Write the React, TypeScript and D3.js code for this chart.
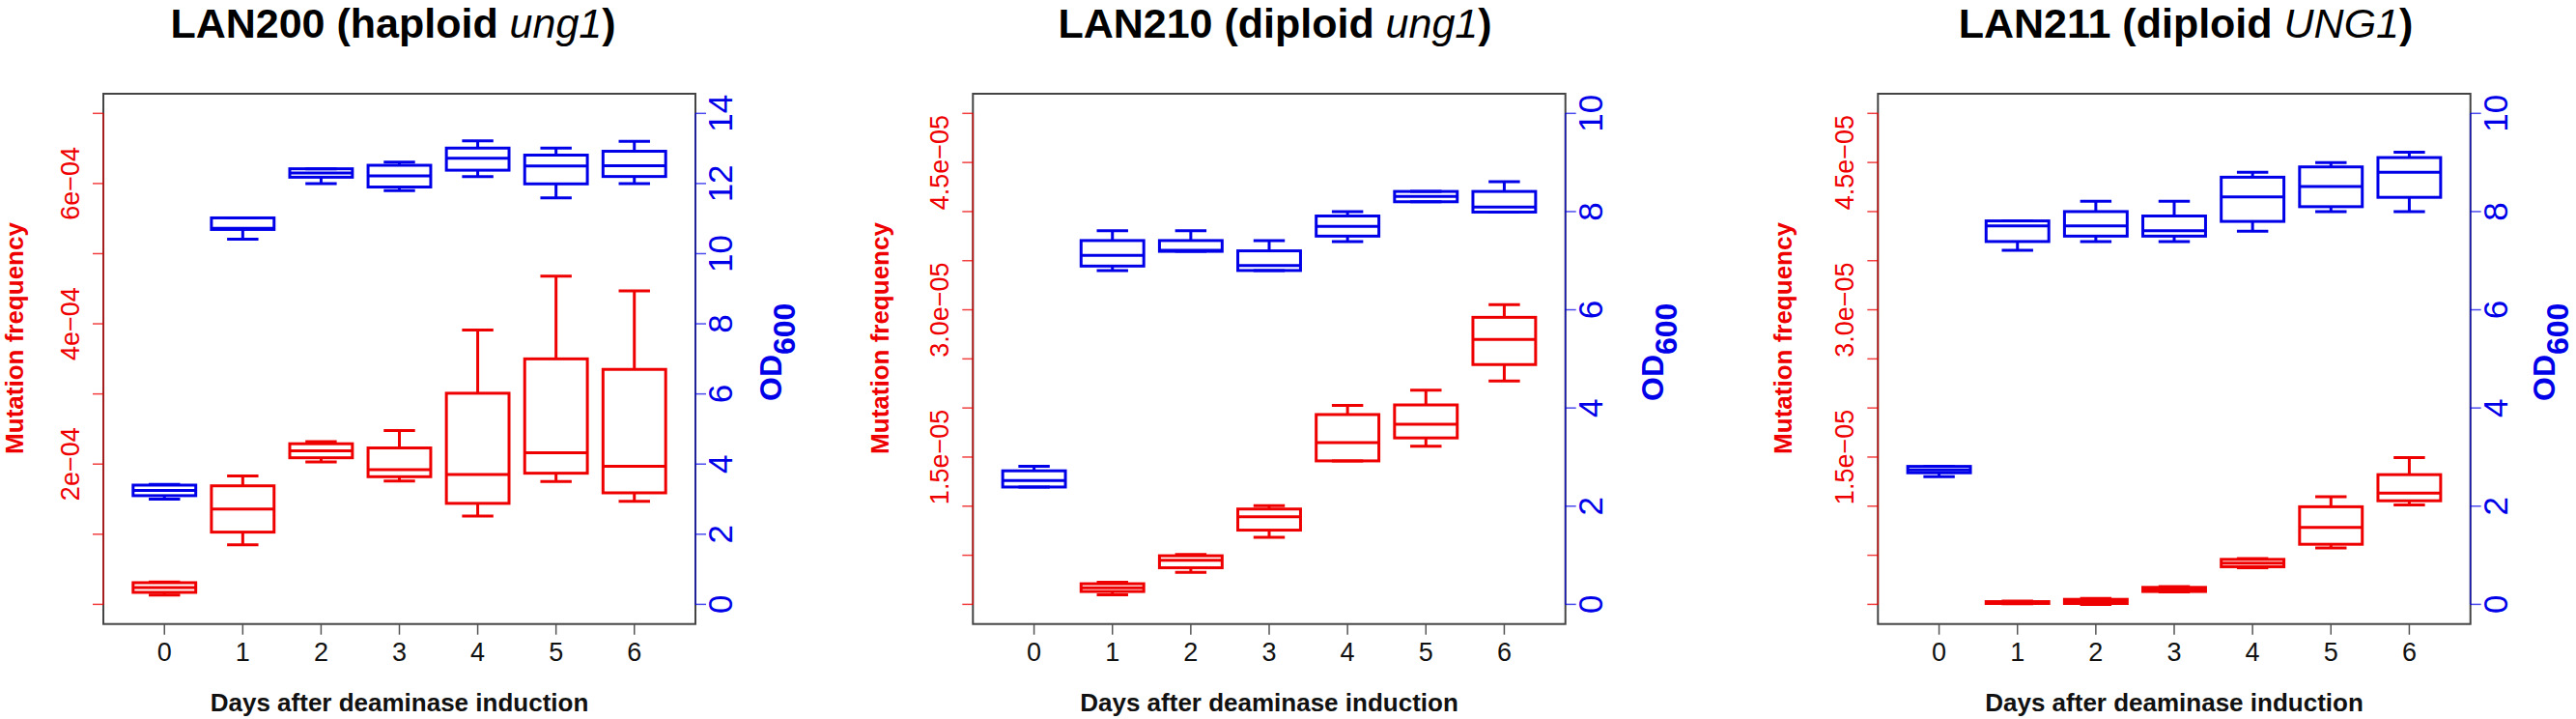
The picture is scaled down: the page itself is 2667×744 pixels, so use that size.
import React from 'react';
import * as d3 from 'd3';

// box stats per day: [lower whisker, Q1, median, Q3, upper whisker]
type Stat = [number, number, number, number, number] | null;

const days = [0, 1, 2, 3, 4, 5, 6];

const lan200Mutation: Stat[] = [
  [1.34e-5, 1.71e-5, 2.4e-5, 3.09e-5, 3.2e-5],
  [0.85e-4, 1.03e-4, 1.36e-4, 1.69e-4, 1.83e-4],
  [2.03e-4, 2.09e-4, 2.19e-4, 2.29e-4, 2.32e-4],
  [1.76e-4, 1.82e-4, 1.92e-4, 2.23e-4, 2.48e-4],
  [1.26e-4, 1.44e-4, 1.85e-4, 3.01e-4, 3.91e-4],
  [1.75e-4, 1.87e-4, 2.16e-4, 3.5e-4, 4.68e-4],
  [1.47e-4, 1.59e-4, 1.97e-4, 3.35e-4, 4.47e-4],
];
const lan200OD: Stat[] = [
  [3.0, 3.1, 3.25, 3.4, 3.42],
  [10.41, 10.69, 10.72, 11.02, 11.02],
  [12.0, 12.18, 12.3, 12.42, 12.42],
  [11.8, 11.9, 12.22, 12.52, 12.61],
  [12.2, 12.38, 12.72, 13.01, 13.22],
  [11.59, 11.99, 12.5, 12.81, 13.01],
  [12.0, 12.2, 12.51, 12.92, 13.2],
];

const lan210Mutation: Stat[] = [
  null,
  [0.098e-5, 0.131e-5, 0.168e-5, 0.21e-5, 0.224e-5],
  [0.327e-5, 0.373e-5, 0.448e-5, 0.495e-5, 0.509e-5],
  [0.682e-5, 0.756e-5, 0.892e-5, 0.971e-5, 1.004e-5],
  [1.461e-5, 1.461e-5, 1.648e-5, 1.933e-5, 2.026e-5],
  [1.611e-5, 1.695e-5, 1.835e-5, 2.031e-5, 2.18e-5],
  [2.274e-5, 2.442e-5, 2.698e-5, 2.923e-5, 3.053e-5],
];
const lan210OD: Stat[] = [
  [2.39, 2.39, 2.52, 2.72, 2.81],
  [6.8, 6.89, 7.11, 7.41, 7.61],
  [7.19, 7.19, 7.21, 7.41, 7.61],
  [6.8, 6.8, 6.9, 7.2, 7.41],
  [7.39, 7.5, 7.7, 7.91, 8.0],
  [8.2, 8.2, 8.31, 8.41, 8.41],
  [7.99, 7.99, 8.09, 8.41, 8.61],
];

const lan211Mutation: Stat[] = [
  null,
  [0.005e-5, 0.009e-5, 0.019e-5, 0.028e-5, 0.033e-5],
  [0.0, 0.009e-5, 0.028e-5, 0.051e-5, 0.061e-5],
  [0.126e-5, 0.131e-5, 0.154e-5, 0.173e-5, 0.182e-5],
  [0.373e-5, 0.383e-5, 0.42e-5, 0.458e-5, 0.467e-5],
  [0.574e-5, 0.612e-5, 0.784e-5, 0.994e-5, 1.097e-5],
  [1.013e-5, 1.055e-5, 1.134e-5, 1.321e-5, 1.494e-5],
];
const lan211OD: Stat[] = [
  [2.6, 2.68, 2.74, 2.81, 2.81],
  [7.21, 7.39, 7.71, 7.81, 7.81],
  [7.39, 7.5, 7.71, 8.0, 8.21],
  [7.39, 7.5, 7.61, 7.91, 8.21],
  [7.6, 7.8, 8.3, 8.7, 8.8],
  [8.0, 8.1, 8.51, 8.91, 9.0],
  [8.0, 8.29, 8.8, 9.1, 9.21],
];

// axis ticks and labels
const ticks200 = [0, 1e-4, 2e-4, 3e-4, 4e-4, 5e-4, 6e-4, 7e-4];
const labels200 = [{ v: 2e-4, t: '2e\u221204' }, { v: 4e-4, t: '4e\u221204' }, { v: 6e-4, t: '6e\u221204' }];
const ticks21x = [0, 5e-6, 1e-5, 1.5e-5, 2e-5, 2.5e-5, 3e-5, 3.5e-5, 4e-5, 4.5e-5, 5e-5];
const labels21x = [{ v: 1.5e-5, t: '1.5e\u221205' }, { v: 3e-5, t: '3.0e\u221205' }, { v: 4.5e-5, t: '4.5e\u221205' }];
const odTicks200 = [0, 2, 4, 6, 8, 10, 12, 14];
const odTicks21x = [0, 2, 4, 6, 8, 10];

const RED = '#ee0000';
const BLUE = '#0000e8';
const FONT = '"Liberation Sans", Arial, Helvetica, sans-serif';

const TOP = 97;
const BOTTOM = 645.7;

interface PanelDef {
  name: string;
  strain: string;
  gene: string;
  left: number;
  right: number;
  titleX: number;
  ylabX: number;
  odX: number;
  mutMax: number;
  mutTicks: number[];
  mutLabels: { v: number; t: string }[];
  odMax: number;
  odTicks: number[];
  mutation: Stat[];
  od: Stat[];
}

const panels: PanelDef[] = [
  { name: 'LAN200', strain: 'haploid', gene: 'ung1', left: 107, right: 720, titleX: 407, ylabX: 24, odX: 809,
    mutMax: 7e-4, mutTicks: ticks200, mutLabels: labels200, odMax: 14, odTicks: odTicks200,
    mutation: lan200Mutation, od: lan200OD },
  { name: 'LAN210', strain: 'diploid', gene: 'ung1', left: 1007.3, right: 1620.7, titleX: 1320, ylabX: 920, odX: 1722,
    mutMax: 5e-5, mutTicks: ticks21x, mutLabels: labels21x, odMax: 10, odTicks: odTicks21x,
    mutation: lan210Mutation, od: lan210OD },
  { name: 'LAN211', strain: 'diploid', gene: 'UNG1', left: 1944.3, right: 2557.7, titleX: 2263, ylabX: 1855, odX: 2645,
    mutMax: 5e-5, mutTicks: ticks21x, mutLabels: labels21x, odMax: 10, odTicks: odTicks21x,
    mutation: lan211Mutation, od: lan211OD },
];

const Boxes: React.FC<{ stats: Stat[]; x: d3.ScaleLinear<number, number>; y: d3.ScaleLinear<number, number>; color: string }> = ({ stats, x, y, color }) => {
  const half = 0.4;
  const staple = 0.2;
  return (
    <g stroke={color} strokeWidth={3} fill="none">
      {stats.map((s, i) => {
        if (!s) return null;
        const cx = x(i + 1);
        const [lo, q1, med, q3, hi] = s;
        const x0 = x(i + 1 - half);
        const x1 = x(i + 1 + half);
        return (
          <g key={i}>
            <line x1={cx} x2={cx} y1={y(q3)} y2={y(hi)} />
            <line x1={cx} x2={cx} y1={y(q1)} y2={y(lo)} />
            <line x1={x(i + 1 - staple)} x2={x(i + 1 + staple)} y1={y(hi)} y2={y(hi)} />
            <line x1={x(i + 1 - staple)} x2={x(i + 1 + staple)} y1={y(lo)} y2={y(lo)} />
            <rect x={x0} y={y(q3)} width={x1 - x0} height={y(q1) - y(q3)} />
            <line x1={x0} x2={x1} y1={y(med)} y2={y(med)} />
          </g>
        );
      })}
    </g>
  );
};

const Panel: React.FC<{ p: PanelDef }> = ({ p }) => {
  const x = d3.scaleLinear().domain([0.22, 7.78]).range([p.left, p.right]);
  const yMut = d3.scaleLinear().domain([-0.04 * p.mutMax, 1.04 * p.mutMax]).range([BOTTOM, TOP]);
  const yOD = d3.scaleLinear().domain([-0.04 * p.odMax, 1.04 * p.odMax]).range([BOTTOM, TOP]);
  const cx = (p.left + p.right) / 2;
  return (
    <g fontFamily={FONT}>
      <text x={p.titleX} y={39} textAnchor="middle" fontSize={43} fontWeight="bold" fill="#000">
        {`${p.name} (${p.strain} `}
        <tspan fontStyle="italic" fontWeight="normal">{p.gene}</tspan>
        {')'}
      </text>

      <Boxes stats={p.mutation} x={x} y={yMut} color={RED} />
      <Boxes stats={p.od} x={x} y={yOD} color={BLUE} />

      <rect x={p.left} y={TOP} width={p.right - p.left} height={BOTTOM - TOP} fill="none" stroke="#444" strokeWidth={2} />

      {/* left axis */}
      <g stroke={RED} strokeWidth={1.5} strokeOpacity={0.75}>
        <line x1={p.left} x2={p.left} y1={yMut(0)} y2={yMut(p.mutMax)} />
        {p.mutTicks.map(t => (
          <line key={t} x1={p.left - 11} x2={p.left} y1={yMut(t)} y2={yMut(t)} />
        ))}
      </g>
      {p.mutLabels.map(l => (
        <text key={l.t} transform={`translate(${p.left - 25},${yMut(l.v)}) rotate(-90)`} textAnchor="middle"
          fontSize={27} fill={RED}>{l.t}</text>
      ))}
      <text transform={`translate(${p.ylabX},350) rotate(-90)`} textAnchor="middle" fontSize={26} fontWeight="bold" fill={RED}>
        Mutation frequency
      </text>

      {/* right axis */}
      <g stroke={BLUE} strokeWidth={1.5} strokeOpacity={0.7}>
        <line x1={p.right} x2={p.right} y1={yOD(0)} y2={yOD(p.odMax)} />
        {p.odTicks.map(t => (
          <line key={t} x1={p.right} x2={p.right + 11} y1={yOD(t)} y2={yOD(t)} />
        ))}
      </g>
      {p.odTicks.map(t => (
        <text key={t} transform={`translate(${p.right + 38},${yOD(t)}) rotate(-90)`} textAnchor="middle"
          fontSize={35} fill={BLUE}>{t}</text>
      ))}
      <text transform={`translate(${p.odX},415) rotate(-90)`} fontSize={32} fontWeight="bold" fill={BLUE}>
        OD<tspan dy={14}>600</tspan>
      </text>

      {/* bottom axis */}
      <g stroke="#555" strokeWidth={1.5}>
        {days.map((d, i) => (
          <line key={d} x1={x(i + 1)} x2={x(i + 1)} y1={BOTTOM} y2={BOTTOM + 11} />
        ))}
      </g>
      {days.map((d, i) => (
        <text key={d} x={x(i + 1)} y={684} textAnchor="middle" fontSize={27} fill="#111">{d}</text>
      ))}
      <text x={cx} y={736} textAnchor="middle" fontSize={26} fontWeight="bold" fill="#111">
        Days after deaminase induction
      </text>
    </g>
  );
};

export default function App() {
  return (
    <svg width={2667} height={744} style={{ position: 'absolute', left: 0, top: 0, background: '#fff' }}>
      <rect width={2667} height={744} fill="#fff" />
      {panels.map(p => <Panel key={p.name} p={p} />)}
    </svg>
  );
}
